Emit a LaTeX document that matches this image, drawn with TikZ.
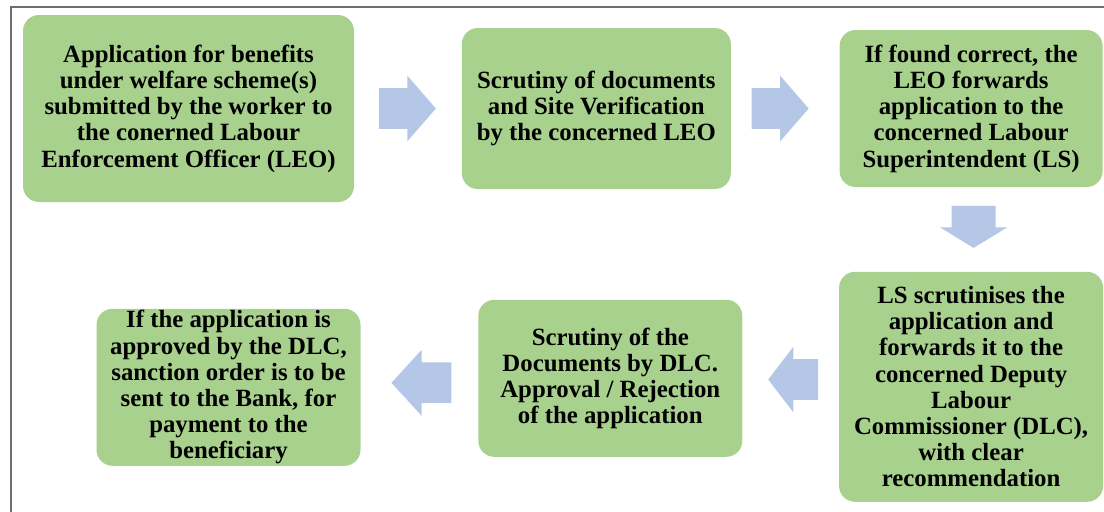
\documentclass[tikz,border=0pt]{standalone}
\usepackage{fontspec}
\setmainfont{Liberation Serif}[BoldFont={Liberation Serif Bold}]
\usepackage{xcolor}
\usetikzlibrary{positioning}
\usetikzlibrary{calc}
\usetikzlibrary{shapes.arrows}

\definecolor{boxgreen}{HTML}{A9D18E}
\definecolor{arrowblue}{HTML}{B4C7E7}
\definecolor{framegray}{HTML}{6E6E6E}

\tikzset{
  stepbox/.style={rectangle, rounded corners=8pt, fill=boxgreen, draw=none,
    inner sep=0pt, align=center, font=\fontsize{12.4pt}{13.1pt}\selectfont\bfseries},
  blockarrow/.style={single arrow, fill=arrowblue, draw=none, inner xsep=0pt,
    inner ysep=10pt, single arrow head extend=6.25pt, anchor=tip}
}

\begin{document}
\begin{tikzpicture}

    \useasboundingbox (0pt,0pt) rectangle (552pt,-255.5pt);
    \draw[framegray, line width=1pt] (5.5pt,-256pt) |- (553pt,-3.5pt);

    % Define nodes
    \node[stepbox, minimum width=165.5pt, minimum height=93.5pt] (apply) at (94.25pt,-54.25pt)
      {Application for benefits\\ under welfare scheme(s)\\ submitted by the worker to\\ the conerned Labour\\ Enforcement Officer (LEO)};
    \node[stepbox, minimum width=134.5pt, minimum height=80.5pt, right=53.5pt of apply] (leocheck)
      {Scrutiny of documents\\ and Site Verification\\ by the concerned LEO};
    \node[stepbox, minimum width=131.5pt, minimum height=78.5pt, right=54pt of leocheck] (forward)
      {If found correct, the\\ LEO forwards\\ application to the\\ concerned Labour\\ Superintendent (LS)};
    \node[stepbox, minimum width=132pt, minimum height=115pt, below=42pt of forward] (lscheck)
      {LS scrutinises the\\ application and\\ forwards it to the\\ concerned Deputy\\ Labour\\ Commissioner (DLC),\\ with clear\\ recommendation};
    \node[stepbox, minimum width=132pt, minimum height=78.5pt, left=48pt of lscheck, yshift=4.25pt] (dlccheck)
      {Scrutiny of the\\ Documents by DLC.\\ Approval / Rejection\\ of the application};
    \node[stepbox, minimum width=132pt, minimum height=78.5pt, left=58.5pt of dlccheck, yshift=-4.5pt] (sanction)
      {If the application is\\ approved by the DLC,\\ sanction order is to be\\ sent to the Bank, for\\ payment to the\\ beneficiary};

    % Connect the nodes
    \node[blockarrow, minimum height=28.5pt, single arrow tip angle=98, xshift=14.25pt] (arr1)
      at ($(apply.east)!0.5!(leocheck.west)$) {};
    \node[blockarrow, minimum height=28.5pt, single arrow tip angle=98, xshift=12pt] (arr2)
      at ($(leocheck.east)!0.5!(forward.west)$) {};
    \node[blockarrow, minimum height=21pt, inner xsep=10.75pt, inner ysep=0pt, single arrow head extend=5.75pt,
      single arrow tip angle=117, shape border rotate=270, xshift=1.25pt, yshift=-9.5pt] (arr3)
      at ($(forward.south)!0.5!(lscheck.north)$) {};
    \node[blockarrow, minimum height=25pt, single arrow tip angle=105, shape border rotate=180,
      xshift=-11.5pt, yshift=1.5pt] (arr4)
      at ($(lscheck.west)!0.5!(dlccheck.east)$) {};
    \node[blockarrow, minimum height=30pt, single arrow tip angle=95, shape border rotate=180,
      xshift=-14.25pt] (arr5)
      at ($(dlccheck.west)!0.5!(sanction.east)$) {};

  \end{tikzpicture}
\end{document}
